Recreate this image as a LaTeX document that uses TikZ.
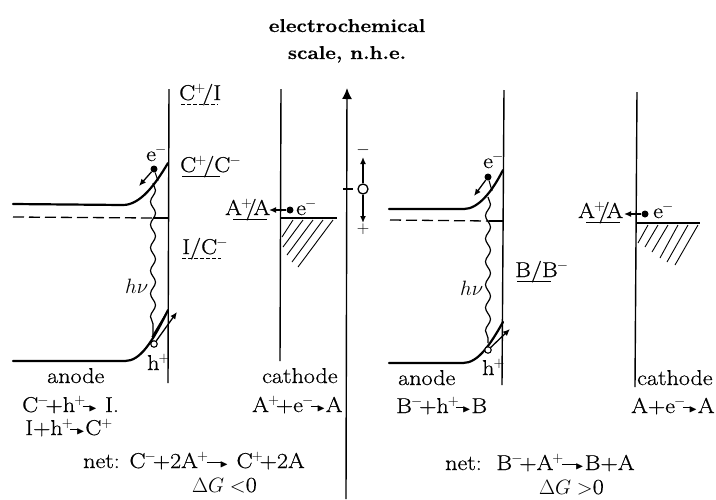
\documentclass[tikz,border=0pt]{standalone}
\usepackage{amssymb}
\usepackage{fontspec}
\setmainfont{Latin Modern Roman}[FakeStretch=1.12,FakeBold=0.6]
\usetikzlibrary{arrows.meta,decorations.pathmorphing,calc}
\newcommand{\ar}{\mbox{\kern.03em\rule[.24em]{.38em}{.06em}\kern-.1em\raisebox{.03em}{$\scriptscriptstyle\blacktriangleright$}\kern.03em}}
\newcommand{\arl}{\mbox{\kern.1em\rule[.24em]{.7em}{.06em}\kern-.1em\raisebox{.03em}{$\scriptscriptstyle\blacktriangleright$}\kern.05em}}
\newcommand{\Sp}[1]{\kern-.04em$^{#1}$\kern-.17em}
\newcommand{\Sl}{\kern-.15em/\kern-.15em}
\tikzset{
  txt/.style={anchor=base west,inner sep=0pt,font=\fontsize{21.5}{24}\selectfont},
  ctxt/.style={anchor=base,inner sep=0pt,font=\fontsize{18.5}{20}\selectfont\bfseries},
  wall/.style={line width=1.4pt},
  band/.style={line width=2.2pt,line cap=round},
  fermi/.style={line width=1.3pt,dash pattern=on 11pt off 5pt},
  hatch/.style={line width=.9pt},
  ul/.style={line width=1pt},
  uldash/.style={line width=1pt,dash pattern=on 4pt off 2pt},
  wave/.style={line width=1.2pt,decorate,decoration={snake,segment length=23pt,amplitude=2.5pt}},
  arr/.style={line width=1.3pt,-{Latex[length=7pt,width=6pt]}},
  dot/.style={circle,fill=black,inner sep=0pt,minimum size=7pt},
  hole/.style={circle,draw,line width=1.1pt,fill=white,inner sep=0pt,minimum size=6.5pt}
}
\begin{document}
\begin{tikzpicture}[x=1pt,y=-1pt]
\useasboundingbox (0,0) rectangle (716,499);
% heading
\node[ctxt] (h1) at (347,32) {electrochemical};
\node[ctxt] (h2) at (347,59) {scale, n.h.e.};
% axis
\coordinate (axb) at (346,499); \coordinate (axt) at (347,88);
\draw[line width=1.4pt,-{Latex[length=11pt,width=10pt]}] (axb) -- (axt);
\draw[line width=1.1pt] (343,189) -- (353,189);
\node[hole,minimum size=10pt,line width=1.3pt] (o) at (363,189) {};
\node[inner sep=0pt,font=\fontsize{16}{16}\selectfont] (minus) at (363,150) {$-$};
\node[inner sep=0pt,font=\fontsize{16}{16}\selectfont] (plus) at (363,229) {$+$};
\draw[arr] (o) -- (363,157);
\draw[arr] (o) -- (363,223);
% left anode
\draw[wall] (169,89) -- (168,383);
\draw[band] (13,204) -- (123,205) .. controls (140,205) and (155,185) .. (168,163);
\draw[band] (13,361) -- (125,361) .. controls (140,361) and (152,343) .. (168,310);
\draw[fermi] (13,217) -- (153,218);
\draw[line width=1.3pt] (153,218) -- (168,218);
\draw[wave] (153,183) -- (153,335);
\node[dot] (e1) at (154,169) {};
\draw[arr] (e1) -- (139,186);
\draw[line width=1.1pt] (e1) -- (158,181);
\node[hole] (h1c) at (154,344) {};
\draw[line width=1.3pt] (152,337) -- (167,312);
\draw[arr] (h1c) -- (177,312);
\node[txt] (em1) at (146,161) {e\Sp{-}};
\node[txt] (hp1) at (147,370) {h\Sp{+}};
\node[txt] (hv1) at (125,293) {$h\nu$};
% left labels
\node[txt] (l1) at (179,100) {C\Sp{+}/I};
\draw[uldash] (181,104) -- (218,104);
\node[txt] (l2) at (180,172) {C\Sp{+}/C\Sp{-}};
\draw[ul] (182,176) -- (220,176);
\node[txt] (l3) at (182,254) {I/C\Sp{-}};
\draw[uldash] (182,258) -- (221,258);
% left cathode
\draw[wall] (281,89) -- (280,361);
\draw[line width=1.3pt] (281,218) -- (337,218);
\foreach \a/\b/\c/\d in {293/220/282/237,303/220/283/247,313/220/287/255,323/220/292/262,333/220/298/267}
  \draw[hatch] (\a,\b) -- (\c,\d);
\node[txt] (aa1) at (225,215) {A\Sp{+}\Sl A};
\draw[ul] (233,219) -- (267,219);
\node[dot] (e2) at (290,210) {};
\coordinate (t2) at (269,210);
\draw[arr] (e2) -- (t2);
\node[txt] (em2) at (296,215) {e\Sp{-}};
% left text
\node[txt] (an1) at (47,383) {anode};
\node[txt] (r1) at (22,412) {C\Sp{-}+h\Sp{+}\ar{} I.};
\node[txt] (r2) at (25,435) {I+h\Sp{+}\ar{}C$^{+}$};
\node[txt] (ca1) at (262,383) {cathode};
\node[txt] (r3) at (252,412) {A\Sp{+}+e\Sp{-}\ar{}A};
\node[txt] (n1) at (83,468) {net: C\Sp{-}+2A\Sp{+}\arl{}\ C\Sp{+}+2A};
\node[txt] (g1) at (192,492) {$\Delta G<$0};
% right anode
\draw[wall] (504,90) -- (502,385);
\draw[band] (389,209) -- (464,209) .. controls (478,209) and (492,192) .. (503,170);
\draw[band] (389,363) -- (463,363) .. controls (478,363) and (490,345) .. (503,322);
\draw[fermi] (390,220) -- (489,221);
\draw[line width=1.3pt] (489,221) -- (503,221);
\draw[wave] (488,197) -- (488,343);
\node[dot] (e3) at (488,177) {};
\draw[arr] (e3) -- (474,196);
\draw[line width=1.1pt] (e3) -- (492,191);
\node[hole] (h3c) at (488,350) {};
\draw[arr] (h3c) -- (510,329);
\node[txt] (em3) at (483,168) {e\Sp{-}};
\node[txt] (hp3) at (482,375) {h\Sp{+}};
\node[txt] (hv3) at (460,295) {$h\nu$};
\node[txt] (l4) at (515,277) {B/B\Sp{-}};
\draw[ul] (517,281) -- (551,281);
% right cathode
\draw[wall] (637,92) -- (635,387);
\draw[line width=1.3pt] (637,223) -- (700,223);
\foreach \a/\b/\c/\d in {648/225/638/243,658/225/645/247,668/225/652/252,678/225/660/258,688/225/667/262,698/225/675/265}
  \draw[hatch] (\a,\b) -- (\c,\d);
\node[txt] (aa2) at (578,218) {A\Sp{+}\Sl A};
\draw[ul] (586,222) -- (620,222);
\node[dot] (e4) at (645,214) {};
\coordinate (t4) at (624,214);
\draw[arr] (e4) -- (t4);
\node[txt] (em4) at (653,218) {e\Sp{-}};
% right text
\node[txt] (an2) at (398,385) {anode};
\node[txt] (r4) at (396,413) {B\Sp{-}+h\Sp{+}\ar{}B};
\node[txt] (ca2) at (637,385) {cathode};
\node[txt] (r5) at (631,413) {A+e\Sp{-}\ar{}A};
\node[txt] (n2) at (445,470) {net:\ \ B\Sp{-}+A\Sp{+}\arl{}B+A};
\node[txt] (g2) at (539,494) {$\Delta G>$0};
\end{tikzpicture}
\end{document}
